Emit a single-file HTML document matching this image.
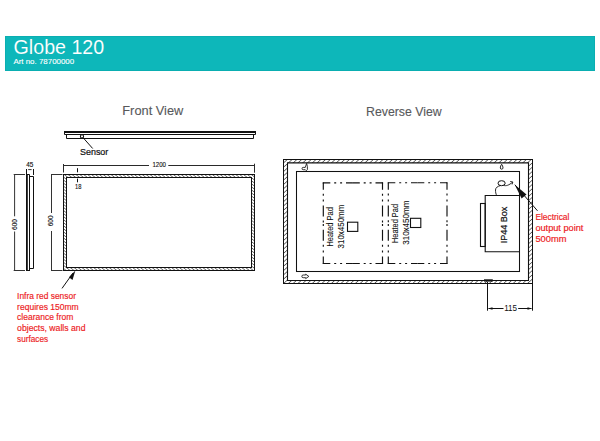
<!DOCTYPE html>
<html><head><meta charset="utf-8">
<style>
html,body{margin:0;padding:0;background:#fff;width:600px;height:441px;overflow:hidden}
svg{display:block}
text{font-family:"Liberation Sans",sans-serif}
</style></head><body>
<svg width="600" height="441" viewBox="0 0 600 441">
<defs>
<pattern id="h1" patternUnits="userSpaceOnUse" width="2.4" height="2.4" patternTransform="rotate(-52)">
<rect width="2.4" height="2.4" fill="#fff"/><rect width="0.6" height="2.4" fill="#333"/>
</pattern>
<pattern id="h2" patternUnits="userSpaceOnUse" width="3.2" height="3.2" patternTransform="rotate(48)">
<rect width="3.2" height="3.2" fill="#fff"/><rect width="0.6" height="3.2" fill="#222"/>
</pattern>
</defs>
<!-- banner -->
<rect x="5" y="36" width="590" height="35" fill="#0db7ba"/><rect x="5.5" y="36.5" width="589" height="34" fill="none" stroke="#0aaeb1" stroke-width="1"/>
<text x="13.6" y="54" font-size="20.3" fill="#fff" stroke="#0db7ba" stroke-width="0.1" textLength="90.6" lengthAdjust="spacingAndGlyphs">Globe 120</text>
<text x="13.4" y="64.1" font-size="7.9" fill="#fff" stroke="#fff" stroke-width="0.12" textLength="60.8" lengthAdjust="spacingAndGlyphs">Art no. 78700000</text>

<!-- titles -->
<text x="122.3" y="114.9" font-size="13.3" fill="#58595b" stroke="#58595b" stroke-width="0.12" textLength="61" lengthAdjust="spacingAndGlyphs">Front View</text>
<text x="366" y="116" font-size="12.9" fill="#58595b" stroke="#58595b" stroke-width="0.12" textLength="75.7" lengthAdjust="spacingAndGlyphs">Reverse View</text>

<g stroke="#111" fill="none" stroke-width="1">
<!-- top profile -->
<rect x="64" y="131" width="192" height="2" fill="#111" stroke="none"/>
<path d="M64.5 131 V134.5 H255.5 V131"/>
<path d="M66.5 134.5 V138.5 H253.5 V134.5"/>
<circle cx="82" cy="136.4" r="1.6" fill="#fff" stroke-width="1.1"/>
<path d="M83 137.6 L92.7 148.5"/>

<!-- 1200 dim -->
<path d="M63.5 164 V172.5 M254.5 163.7 V172.7 M63.5 165.5 H149 M168.3 165.5 H254.5" stroke="#2a2a2a"/>
<!-- 18 tick -->
<path d="M77.5 168.2 V172.3 M77.5 178.6 V182.3"/>

<!-- front rect hatched -->
<path d="M63.5 174.5 H254.5 V270.5 H63.5 Z M66.5 177.5 V267.5 H251.5 V177.5 Z" fill="url(#h1)" fill-rule="evenodd" stroke="none"/>
<rect x="63.5" y="174.5" width="191" height="96"/>
<rect x="66.5" y="177.5" width="185" height="90"/>

<!-- front 600 dim -->
<path d="M51 174.5 H62.5 M51 270.5 H62.5 M51.5 174.5 V213 M51.5 231 V270.5" stroke="#333"/>

<!-- side view -->
<path d="M13.7 174.5 H25 M13.7 270.5 H25 M14.6 174.5 V216.3 M14.6 231.5 V270.5" stroke="#333"/>
<rect x="26" y="174" width="1.8" height="97" fill="#111" stroke="none"/><path d="M27 174.5 H29.5 V271 M27 270.5 H29.5" stroke-width="1"/>
<path d="M29.5 176.5 H33.5 V268.5 H29.5"/>
<path d="M26.5 169 V175 M33.5 169 V175"/>
<path d="M28.2 169.6 H31.6" stroke="#333"/>

<!-- sensor arrow -->
<path d="M62 288.4 L73 273"/>
</g>
<polygon points="75.4,270.6 68.9,277.2 72.5,280" fill="#111"/>

<text x="80" y="154.7" font-size="9.3" fill="#111" stroke="#111" stroke-width="0.22" textLength="28.3" lengthAdjust="spacingAndGlyphs">Sensor</text>
<text x="152.4" y="166.7" font-size="6.4" fill="#111" stroke="#111" stroke-width="0.12" textLength="13.6" lengthAdjust="spacingAndGlyphs">1200</text>
<text x="75" y="189.4" font-size="7" fill="#111" stroke="#111" stroke-width="0.12" textLength="6.4" lengthAdjust="spacingAndGlyphs">18</text>
<text x="26.3" y="167.2" font-size="7.2" fill="#111" stroke="#111" stroke-width="0.15" textLength="7.1" lengthAdjust="spacingAndGlyphs">45</text>
<text transform="translate(17.2 230) rotate(-90)" font-size="7.2" fill="#111" stroke="#111" stroke-width="0.12" textLength="11" lengthAdjust="spacingAndGlyphs">600</text>
<text transform="translate(53 226.3) rotate(-90)" font-size="7.2" fill="#111" stroke="#111" stroke-width="0.12" textLength="11" lengthAdjust="spacingAndGlyphs">600</text>

<g fill="#ed1c24" stroke="#ed1c24" stroke-width="0.18" font-size="9.4">
<text x="17.1" y="298.6" textLength="58.9" lengthAdjust="spacingAndGlyphs">Infra red sensor</text>
<text x="17.1" y="309.5" textLength="61.6" lengthAdjust="spacingAndGlyphs">requires 150mm</text>
<text x="17.1" y="320.1" textLength="56.2" lengthAdjust="spacingAndGlyphs">clearance from</text>
<text x="17.1" y="331.3" textLength="68.4" lengthAdjust="spacingAndGlyphs">objects, walls and</text>
<text x="17.1" y="341.5" textLength="31" lengthAdjust="spacingAndGlyphs">surfaces</text>
</g>

<!-- reverse view -->
<path d="M283.5 159.5 H532.5 V283.5 H283.5 Z M287.5 162.9 V280.5 H528.5 V162.9 Z" fill="url(#h2)" fill-rule="evenodd"/>
<g stroke="#111" fill="none" stroke-width="1">
<rect x="283.5" y="159.5" width="249" height="124"/>
<path d="M287.5 162.9 H528.5 V280.5 H287.5 Z" stroke-width="1.1"/>
<rect x="296.5" y="171.5" width="223" height="100" stroke-width="1.05"/>
<!-- dash-dot rects -->
<g stroke-dasharray="11 3.9 2 3.9 2 3.9" stroke-dashoffset="4" stroke-width="1.15" stroke-linecap="butt"><path d="M323.30 182.80 L352.90 182.80"/><path d="M382.50 182.80 L352.90 182.80"/><path d="M323.30 263.50 L352.90 263.50"/><path d="M382.50 263.50 L352.90 263.50"/><path d="M323.30 182.80 L323.30 223.15"/><path d="M323.30 263.50 L323.30 223.15"/><path d="M382.50 182.80 L382.50 223.15"/><path d="M382.50 263.50 L382.50 223.15"/><path d="M388.30 182.70 L417.65 182.70"/><path d="M447.00 182.70 L417.65 182.70"/><path d="M388.30 263.50 L417.65 263.50"/><path d="M447.00 263.50 L417.65 263.50"/><path d="M388.30 182.70 L388.30 223.10"/><path d="M388.30 263.50 L388.30 223.10"/><path d="M447.00 182.70 L447.00 223.10"/><path d="M447.00 263.50 L447.00 223.10"/><path d="M322.68 182.8 H323.9 M381.9 182.8 H383.1 M322.68 263.5 H323.9 M381.9 263.5 H383.1 M387.68 182.7 H388.9 M446.4 182.7 H447.62 M387.68 263.5 H388.9 M446.4 263.5 H447.62" stroke-dasharray="none"/></g>
<rect x="347.5" y="222.2" width="10.3" height="9.2" stroke-width="1.1"/>
<rect x="410.5" y="218.3" width="10.3" height="9.2" stroke-width="1.1"/>
<!-- IP44 box -->
<path d="M519.5 195.5 H485.2 V251.7 H519.5" stroke-width="1.1"/>
<rect x="480.5" y="203.5" width="4.7" height="43" stroke-width="1.1"/>
<!-- cable -->
<ellipse cx="501.6" cy="183.2" rx="3.6" ry="2.5"/>
<path d="M503.5 185.3 C506 186.3 509 185.2 512.6 182.2 M510.2 181.5 L512.8 182 L512.1 184.4" stroke-width="0.9"/>
<path d="M500.5 185.6 C498 186.1 495.5 187.5 495.5 190 C495.5 192 495.8 194 496.8 195.6" stroke-width="0.9"/>
<!-- brackets -->
<path d="M305.3 167.4 H303.2 A1.15 1.15 0 0 0 303.2 169.7 H305.3 L306.3 170.7 L307.4 169.5 V166.5 L306.6 163.4 Z" stroke-width="0.85"/>
<path d="M305.7 275 H303.2 A1.35 1.35 0 0 0 303.2 277.7 H305.7 V278.6 L308.85 276.4 L305.7 274.2 Z" stroke-width="0.85"/>
<path d="M501.65 164.3 C501 165 500.3 166.8 500.3 168 C500.3 169.6 503 169.6 503 168 C503 166.8 502.3 165 501.65 164.3 Z" stroke-width="0.9"/>
<!-- 115 dim -->
<path d="M487.5 282 V310.7 M532.5 284 V310.7 M488.5 308.5 H503.5 M518.2 308.5 H531.5"/>
<!-- electrical arrow -->
<path d="M514.8 184.7 L537.5 210.8"/>
</g>
<rect x="484" y="279.3" width="8.8" height="2.3" fill="#111"/>
<polygon points="514.8,184.7 526.5,194.6 521.6,198.6" fill="#111"/>
<polygon points="488.2,308.5 492.5,307.3 492.5,309.7" fill="#111"/>
<polygon points="531.8,308.5 527.5,307.3 527.5,309.7" fill="#111"/>
<text x="504.2" y="311.3" font-size="8.3" fill="#111" textLength="12.9" lengthAdjust="spacingAndGlyphs">115</text>

<g fill="#111" stroke="#111" stroke-width="0.08" font-size="8.5">
<text transform="translate(333.2 246.6) rotate(-90)" textLength="39.5" lengthAdjust="spacingAndGlyphs">Heated Pad</text>
<text transform="translate(344.4 248.4) rotate(-90)" textLength="43.7" lengthAdjust="spacingAndGlyphs">310x450mm</text>
<text transform="translate(397.7 243) rotate(-90)" textLength="39" lengthAdjust="spacingAndGlyphs">Heated Pad</text>
<text transform="translate(408.8 244.8) rotate(-90)" textLength="44.2" lengthAdjust="spacingAndGlyphs">310x450mm</text>
<text transform="translate(507 243.3) rotate(-90)" font-size="9" stroke-width="0.22" textLength="36.7" lengthAdjust="spacingAndGlyphs">IP44 Box</text>
</g>
<g fill="#ed1c24" stroke="#ed1c24" stroke-width="0.18" font-size="8.9">
<text x="535.4" y="220.2" textLength="34" lengthAdjust="spacingAndGlyphs">Electrical</text>
<text x="535.4" y="231.2" textLength="48" lengthAdjust="spacingAndGlyphs">output point</text>
<text x="535.4" y="241.8" textLength="31" lengthAdjust="spacingAndGlyphs">500mm</text>
</g>
</svg>
</body></html>
